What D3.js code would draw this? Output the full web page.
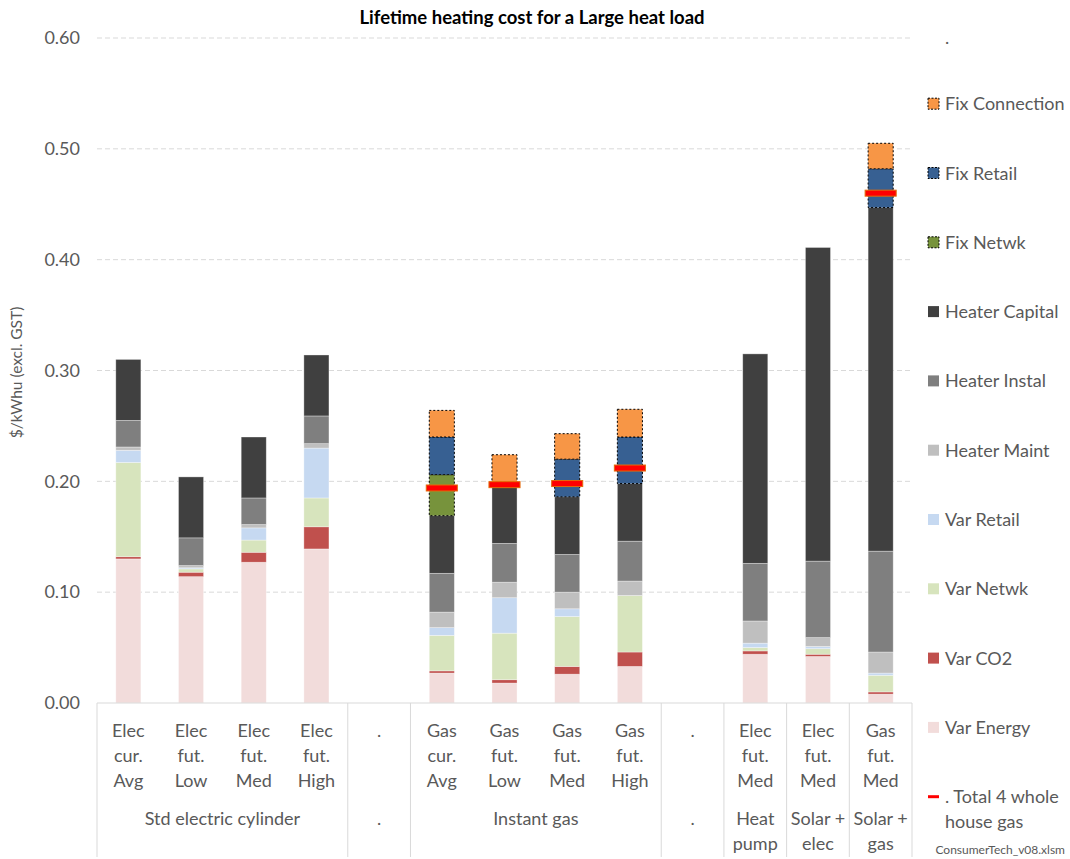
<!DOCTYPE html>
<html>
<head>
<meta charset="utf-8">
<script src="https://cdn.jsdelivr.net/npm/d3@7"></script>
<style>
  html, body { margin: 0; padding: 0; background: #fff; }
  svg { display: block; font-family: Lato, "Open Sans", sans-serif; }
</style>
</head>
<body>
<svg id="chart" width="1070" height="859"></svg>
<script>
// ---- Data ----
const categoryLines = [
  ["Elec", "cur.", "Avg"], ["Elec", "fut.", "Low"], ["Elec", "fut.", "Med"], ["Elec", "fut.", "High"],
  ["."],
  ["Gas", "cur.", "Avg"], ["Gas", "fut.", "Low"], ["Gas", "fut.", "Med"], ["Gas", "fut.", "High"],
  ["."],
  ["Elec", "fut.", "Med"], ["Elec", "fut.", "Med"], ["Gas", "fut.", "Med"]
];
const groups = [
  { start: 0, end: 4, lines: ["Std electric cylinder"] },
  { start: 4, end: 5, lines: ["."] },
  { start: 5, end: 9, lines: ["Instant gas"] },
  { start: 9, end: 10, lines: ["."] },
  { start: 10, end: 11, lines: ["Heat", "pump"] },
  { start: 11, end: 12, lines: ["Solar +", "elec"] },
  { start: 12, end: 13, lines: ["Solar +", "gas"] }
];
const varEnergy     = [0.130, 0.114, 0.127, 0.139, 0, 0.027, 0.018, 0.026, 0.033, 0, 0.044, 0.042, 0.008];
const varCO2        = [0.002, 0.004, 0.009, 0.020, 0, 0.002, 0.003, 0.007, 0.013, 0, 0.003, 0.002, 0.002];
const varNetwk      = [0.085, 0.003, 0.011, 0.026, 0, 0.032, 0.042, 0.045, 0.051, 0, 0.003, 0.005, 0.015];
const varRetail     = [0.011, 0.001, 0.011, 0.045, 0, 0.007, 0.032, 0.007, 0.000, 0, 0.004, 0.002, 0.002];
const heaterMaint   = [0.003, 0.002, 0.003, 0.004, 0, 0.014, 0.014, 0.015, 0.013, 0, 0.020, 0.008, 0.019];
const heaterInstal  = [0.024, 0.025, 0.024, 0.025, 0, 0.035, 0.035, 0.034, 0.036, 0, 0.052, 0.069, 0.091];
const heaterCapital = [0.055, 0.055, 0.055, 0.055, 0, 0.052, 0.055, 0.052, 0.052, 0, 0.189, 0.283, 0.310];
const fixNetwk      = [0, 0, 0, 0, 0, 0.037, 0, 0, 0, 0, 0, 0, 0];
const fixRetail     = [0, 0, 0, 0, 0, 0.034, 0, 0.034, 0.042, 0, 0, 0, 0.035];
const fixConnection = [0, 0, 0, 0, 0, 0.024, 0.025, 0.023, 0.025, 0, 0, 0, 0.023];
const totalWholeHouseGas = [null, null, null, null, null, 0.194, 0.197, 0.198, 0.212, null, null, null, 0.460];
const yTicks = [0, 0.1, 0.2, 0.3, 0.4, 0.5, 0.6];

const seriesNames = ["Var Energy", "Var CO2", "Var Netwk", "Var Retail", "Heater Maint", "Heater Instal",
  "Heater Capital", "Fix Netwk", "Fix Retail", "Fix Connection"];
const seriesValues = [varEnergy, varCO2, varNetwk, varRetail, heaterMaint, heaterInstal,
  heaterCapital, fixNetwk, fixRetail, fixConnection];
const seriesColors = ["#F2DCDB", "#C0504D", "#D7E4BD", "#C6D9F1", "#BFBFBF", "#7F7F7F",
  "#404040", "#77933C", "#376092", "#F79646"];
const dashedSeries = ["Fix Netwk", "Fix Retail", "Fix Connection"];

(function () {
// ---- Build table ----
const table = categoryLines.map((c, i) => {
  const row = { idx: i };
  seriesNames.forEach((s, k) => row[s] = seriesValues[k][i]);
  return row;
});

const svg = d3.select("#chart");
const pLeft = 97, pRight = 912, pTop = 38, pBottom = 703;
const x = d3.scaleBand().domain(d3.range(categoryLines.length)).range([pLeft, pRight]).paddingInner(0.6).paddingOuter(0.3);
const y = d3.scaleLinear().domain([0, 0.6]).range([pBottom, pTop]);
const color = d3.scaleOrdinal().domain(seriesNames).range(seriesColors);
const grey = "#595959";
const fs = 18;

// Title
svg.append("text").attr("x", 532).attr("y", 24).attr("text-anchor", "middle")
  .attr("font-size", 18.5).attr("font-weight", "bold").attr("fill", "#000")
  .text("Lifetime heating cost for a Large heat load");

// Grid lines
svg.append("g").selectAll("line").data(yTicks.filter(d => d > 0)).join("line")
  .attr("x1", pLeft).attr("x2", pRight)
  .attr("y1", d => y(d)).attr("y2", d => y(d))
  .attr("stroke", "#D9D9D9").attr("stroke-dasharray", "5,3").attr("stroke-width", 1);

// Y axis
const yAxis = d3.axisLeft(y).tickValues(yTicks).tickFormat(d3.format(".2f")).tickSize(0).tickPadding(17);
const gy = svg.append("g").attr("transform", `translate(${pLeft},0)`).call(yAxis);
gy.select(".domain").remove();
gy.selectAll("text").attr("font-size", fs).attr("fill", grey).attr("font-family", "Lato, sans-serif");

// Y title
svg.append("text").attr("transform", `translate(22,${(pTop + pBottom) / 2 + 2}) rotate(-90)`)
  .attr("text-anchor", "middle").attr("font-size", 15.5).attr("fill", grey)
  .text("$/kWhu (excl. GST)");

// Stacked bars
const stacked = d3.stack().keys(seriesNames)(table);
const gBars = svg.append("g");
stacked.forEach(layer => {
  const dashed = dashedSeries.includes(layer.key);
  gBars.append("g").selectAll("rect").data(layer.filter(d => (d[1] - d[0]) > 0)).join("rect")
    .attr("x", d => x(d.data.idx))
    .attr("width", x.bandwidth())
    .attr("y", d => y(d[1]))
    .attr("height", d => y(d[0]) - y(d[1]))
    .attr("fill", color(layer.key))
    .attr("stroke", dashed ? "#000" : "#ffffff")
    .attr("stroke-opacity", dashed ? 1 : 0.45)
    .attr("stroke-width", dashed ? 1 : 0.75)
    .attr("stroke-dasharray", dashed ? "2,2" : null);
});

// Total markers
svg.append("g").selectAll("rect")
  .data(totalWholeHouseGas.map((v, i) => ({ v, i })).filter(d => d.v != null)).join("rect")
  .attr("x", d => x(d.i) - 3)
  .attr("width", x.bandwidth() + 6)
  .attr("y", d => y(d.v) - 3)
  .attr("height", 6)
  .attr("fill", "#FF0000")
  .attr("stroke", "#E46C0A").attr("stroke-width", 1);

// X axis line
svg.append("line").attr("x1", pLeft).attr("x2", pRight).attr("y1", pBottom).attr("y2", pBottom)
  .attr("stroke", "#D9D9D9").attr("stroke-width", 1.2);

// Group separator lines
const step = x.step();
const boundaries = [0, 4, 5, 9, 10, 11, 12, 13];
svg.append("g").selectAll("line").data(boundaries).join("line")
  .attr("x1", d => pLeft + d * step).attr("x2", d => pLeft + d * step)
  .attr("y1", pBottom).attr("y2", 857)
  .attr("stroke", "#D9D9D9").attr("stroke-width", 1);

// Category labels
const catG = svg.append("g");
categoryLines.forEach((lines, i) => {
  const cx = x(i) + x.bandwidth() / 2;
  lines.forEach((t, j) => {
    catG.append("text").attr("x", cx).attr("y", 737 + j * 25)
      .attr("text-anchor", "middle").attr("font-size", fs).attr("fill", grey).text(t);
  });
});

// Group labels
groups.forEach(g => {
  const cx = pLeft + (g.start + g.end) / 2 * step;
  g.lines.forEach((t, j) => {
    svg.append("text").attr("x", cx).attr("y", 825 + j * 25)
      .attr("text-anchor", "middle").attr("font-size", fs).attr("fill", grey).text(t);
  });
});

// Legend
const legendOrder = ["Fix Connection", "Fix Retail", "Fix Netwk", "Heater Capital", "Heater Instal",
  "Heater Maint", "Var Retail", "Var Netwk", "Var CO2", "Var Energy"];
const lg = svg.append("g");
lg.append("text").attr("x", 945).attr("y", 44).attr("font-size", fs).attr("fill", grey).text(".");
legendOrder.forEach((name, i) => {
  const cy = 103.7 + i * 69.3;
  const dashed = dashedSeries.includes(name);
  lg.append("rect").attr("x", 928).attr("y", cy - 5.5).attr("width", 11).attr("height", 11)
    .attr("fill", color(name))
    .attr("stroke", dashed ? "#000" : "none").attr("stroke-dasharray", dashed ? "2,1.5" : null)
    .attr("stroke-width", 1);
  lg.append("text").attr("x", 945).attr("y", cy + 6.5).attr("font-size", fs).attr("fill", grey).text(name);
});
const tcy = 103.7 + 10 * 69.3;
lg.append("line").attr("x1", 928).attr("x2", 939).attr("y1", tcy).attr("y2", tcy)
  .attr("stroke", "#FF0000").attr("stroke-width", 3);
lg.append("text").attr("x", 945).attr("y", tcy + 6.5).attr("font-size", fs).attr("fill", grey).text(". Total 4 whole");
lg.append("text").attr("x", 945).attr("y", tcy + 31.5).attr("font-size", fs).attr("fill", grey).text("house gas");

// Watermark
svg.append("text").attr("x", 1065).attr("y", 854).attr("text-anchor", "end")
  .attr("font-size", 12).attr("fill", grey).text("ConsumerTech_v08.xlsm");
})();
</script>
</body>
</html>
